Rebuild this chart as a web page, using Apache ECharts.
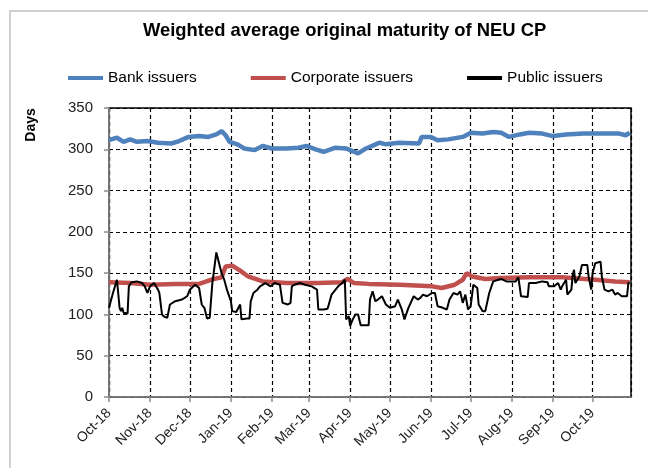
<!DOCTYPE html>
<html>
<head>
    <meta charset="UTF-8">
    <script src="https://cdn.jsdelivr.net/npm/echarts@6/dist/echarts.min.js"></script>
    <style>
        html, body { margin: 0; padding: 0; background: #fff; }
        #chartMain { width: 648px; height: 468px; }
    </style>
</head>
<body>
<div id="chartMain"></div>

<script type="text/javascript">
    // Bank issuers
    var bankDates = ['2018-10-01', '2018-10-07', '2018-10-12', '2018-10-17', '2018-10-22', '2018-10-30',
        '2018-11-07', '2018-11-17', '2018-11-23', '2018-11-30', '2018-12-08', '2018-12-15', '2018-12-21',
        '2018-12-25', '2018-12-28', '2018-12-31', '2019-01-06', '2019-01-11', '2019-01-19', '2019-01-25',
        '2019-02-01', '2019-02-12', '2019-02-21', '2019-02-27', '2019-03-06', '2019-03-12', '2019-03-21',
        '2019-03-29', '2019-04-07', '2019-04-13', '2019-04-19', '2019-04-23', '2019-04-28', '2019-05-08',
        '2019-05-23', '2019-05-25', '2019-06-01', '2019-06-06', '2019-06-14', '2019-06-25', '2019-07-01',
        '2019-07-10', '2019-07-18', '2019-07-24', '2019-07-30', '2019-08-07', '2019-08-14', '2019-08-24',
        '2019-09-01', '2019-09-11', '2019-09-24', '2019-10-06', '2019-10-21', '2019-10-26', '2019-10-29'];
    var bankDays = [311, 314, 309, 312, 309, 310, 308, 307, 310, 315, 316, 315, 318, 322, 317, 309,
        306, 301, 299, 304, 301, 301, 302, 304, 300, 297, 302, 301, 295, 301, 305, 308, 306, 308, 307,
        315, 315, 311, 312, 315, 320, 319, 321, 320, 315, 318, 320, 319, 316, 318, 319, 319, 319, 317, 320];

    // Corporate issuers
    var corpDates = ['2018-10-01', '2018-10-17', '2018-11-01', '2018-11-20', '2018-12-08', '2018-12-12',
        '2018-12-19', '2018-12-25', '2018-12-28', '2019-01-02', '2019-01-08', '2019-01-14', '2019-01-25',
        '2019-02-12', '2019-03-08', '2019-03-26', '2019-03-30', '2019-04-04', '2019-04-15', '2019-05-08',
        '2019-06-02', '2019-06-09', '2019-06-19', '2019-06-25', '2019-06-28', '2019-07-02', '2019-07-12',
        '2019-07-24', '2019-08-14', '2019-09-08', '2019-10-03', '2019-10-18', '2019-10-29'];
    var corpDays = [139, 138, 136, 137, 137, 139, 143, 145, 158, 159, 153, 146, 140, 138, 138, 139, 143,
        138, 137, 136, 134, 132, 136, 142, 150, 146, 143, 144, 145, 145, 142, 140, 139];

    // Public issuers
    var publicDates = ['2018-10-01', '2018-10-04', '2018-10-07', '2018-10-08', '2018-10-09', '2018-10-10',
        '2018-10-11', '2018-10-12', '2018-10-15', '2018-10-16', '2018-10-18', '2018-10-22', '2018-10-26',
        '2018-10-28', '2018-10-30', '2018-11-01', '2018-11-04', '2018-11-07', '2018-11-08', '2018-11-10',
        '2018-11-12', '2018-11-14', '2018-11-16', '2018-11-20', '2018-11-25', '2018-11-29', '2018-12-01',
        '2018-12-05', '2018-12-08', '2018-12-10', '2018-12-12', '2018-12-14', '2018-12-16', '2018-12-18',
        '2018-12-19', '2018-12-21', '2018-12-22', '2018-12-25', '2018-12-27', '2018-12-29', '2019-01-01',
        '2019-01-02', '2019-01-05', '2019-01-06', '2019-01-08', '2019-01-09', '2019-01-13', '2019-01-15',
        '2019-01-16', '2019-01-18', '2019-01-21', '2019-01-23', '2019-01-27', '2019-01-31', '2019-02-03',
        '2019-02-07', '2019-02-09', '2019-02-13', '2019-02-15', '2019-02-16', '2019-02-18', '2019-02-22',
        '2019-02-26', '2019-03-03', '2019-03-07', '2019-03-08', '2019-03-12', '2019-03-15', '2019-03-18',
        '2019-03-21', '2019-03-23', '2019-03-26', '2019-03-28', '2019-03-29', '2019-03-31', '2019-04-01',
        '2019-04-03', '2019-04-05', '2019-04-07', '2019-04-09', '2019-04-15', '2019-04-16', '2019-04-18',
        '2019-04-20', '2019-04-22', '2019-04-25', '2019-04-28', '2019-05-01', '2019-05-05', '2019-05-07',
        '2019-05-10', '2019-05-12', '2019-05-15', '2019-05-16', '2019-05-19', '2019-05-22', '2019-05-24',
        '2019-05-26', '2019-05-29', '2019-06-02', '2019-06-04', '2019-06-06', '2019-06-10', '2019-06-13',
        '2019-06-15', '2019-06-18', '2019-06-21', '2019-06-23', '2019-06-25', '2019-06-27', '2019-06-29',
        '2019-07-01', '2019-07-03', '2019-07-06', '2019-07-07', '2019-07-10', '2019-07-12', '2019-07-15',
        '2019-07-18', '2019-07-22', '2019-07-24', '2019-07-28', '2019-08-04', '2019-08-06', '2019-08-08',
        '2019-08-13', '2019-08-14', '2019-08-19', '2019-08-24', '2019-08-28', '2019-08-29', '2019-09-02',
        '2019-09-05', '2019-09-07', '2019-09-08', '2019-09-11', '2019-09-12', '2019-09-15', '2019-09-16',
        '2019-09-17', '2019-09-18', '2019-09-21', '2019-09-23', '2019-09-24', '2019-09-27', '2019-09-28',
        '2019-09-30', '2019-10-01', '2019-10-03', '2019-10-07', '2019-10-08', '2019-10-10', '2019-10-13',
        '2019-10-16', '2019-10-18', '2019-10-20', '2019-10-23', '2019-10-27', '2019-10-28', '2019-10-29'];
    var publicDays = [108, 126, 142, 143, 108, 104, 108, 102, 101, 134, 139, 140, 138, 134, 126, 134,
        138, 130, 126, 100, 97, 96, 112, 116, 118, 122, 130, 136, 132, 112, 108, 95, 96, 138, 150, 175,
        175, 150, 142, 130, 116, 104, 103, 106, 112, 94, 95, 95, 116, 126, 130, 134, 138, 134, 138, 136,
        114, 112, 114, 134, 136, 138, 136, 134, 130, 106, 106, 107, 124, 130, 134, 138, 142, 94, 98, 86,
        94, 100, 100, 87, 87, 118, 128, 116, 118, 122, 112, 108, 110, 118, 106, 94, 108, 110, 122, 118,
        120, 124, 122, 126, 126, 110, 108, 106, 118, 126, 124, 128, 114, 124, 106, 110, 136, 132, 112,
        104, 104, 126, 140, 142, 143, 140, 140, 145, 122, 121, 138, 138, 140, 139, 134, 134, 138, 130,
        134, 142, 124, 130, 148, 154, 138, 146, 160, 162, 160, 146, 130, 150, 162, 164, 146, 130, 128,
        130, 124, 126, 122, 122, 138, 139];

    var axisStart = '2018-10-01';
    var axisEnd = '2019-10-30';
    var yTicks = [0, 350, 50]; // min, max, step

    function pairs(dates, vals) {
        return dates.map(function (d, i) { return [d, vals[i]]; });
    }

    var font = 'Liberation Sans';
    var myChart = echarts.init(document.getElementById('chartMain'));
    var option = {
        backgroundColor: '#fff',
        animation: false,
        title: {
            text: 'Weighted average original maturity of NEU CP',
            left: 143,
            top: 22,
            padding: 0,
            textStyle: { fontFamily: font, fontSize: 18.4, fontWeight: 'bold', color: '#000' }
        },
        legend: {
            left: 68,
            top: 70,
            padding: 0,
            icon: 'rect',
            itemWidth: 35,
            itemHeight: 4,
            itemGap: 54,
            textStyle: { fontFamily: font, fontSize: 15.5, color: '#000' },
            data: ['Bank issuers', 'Corporate issuers', 'Public issuers']
        },
        graphic: [
            {
                type: 'rect',
                shape: { x: 10, y: 11, width: 700, height: 520 },
                style: { fill: 'none', stroke: '#d0d0d0', lineWidth: 2 },
                silent: true
            },
            {
                type: 'text',
                x: 31,
                y: 125,
                rotation: Math.PI / 2,
                style: {
                    text: 'Days', fontFamily: font, fontSize: 14, fontWeight: 'bold',
                    fill: '#000', align: 'center', verticalAlign: 'middle'
                }
            }
        ],
        grid: {
            left: 109,
            right: 17,
            top: 108,
            bottom: 71,
            show: true,
            borderColor: '#000',
            borderWidth: 1.5
        },
        xAxis: {
            type: 'time',
            min: axisStart,
            max: axisEnd,
            splitNumber: 13,
            minInterval: 28 * 86400000,
            maxInterval: 31 * 86400000,
            axisLine: { lineStyle: { color: '#8c8c8c', width: 1.5 } },
            axisTick: { show: true, length: 5, lineStyle: { color: '#8c8c8c', width: 1.5 } },
            axisLabel: {
                rotate: 45,
                margin: 14,
                fontFamily: font,
                fontSize: 14,
                color: '#222',
                showMaxLabel: false,
                formatter: '{MMM}-{yy}'
            },
            splitLine: { show: true, lineStyle: { color: '#000', type: [4, 3], width: 1.2 } }
        },
        yAxis: {
            type: 'value',
            min: yTicks[0],
            max: yTicks[1],
            interval: yTicks[2],
            axisLine: { show: true, lineStyle: { color: '#8c8c8c', width: 1.5 } },
            axisTick: { show: true, length: 5, lineStyle: { color: '#8c8c8c', width: 1.5 } },
            axisLabel: { margin: 16, fontFamily: font, fontSize: 15, color: '#222' },
            splitLine: { show: true, lineStyle: { color: '#000', type: [4, 3], width: 1.2 } }
        },
        series: [
            {
                name: 'Bank issuers',
                type: 'line',
                symbol: 'none',
                data: pairs(bankDates, bankDays),
                lineStyle: { color: '#4f81bd', width: 4.5 },
                itemStyle: { color: '#4f81bd' }
            },
            {
                name: 'Corporate issuers',
                type: 'line',
                symbol: 'none',
                data: pairs(corpDates, corpDays),
                lineStyle: { color: '#c0504d', width: 4.5 },
                itemStyle: { color: '#c0504d' }
            },
            {
                name: 'Public issuers',
                type: 'line',
                symbol: 'none',
                data: pairs(publicDates, publicDays),
                lineStyle: { color: '#000', width: 2 },
                itemStyle: { color: '#000' }
            }
        ]
    };
    myChart.setOption(option);
</script>
</body>
</html>
